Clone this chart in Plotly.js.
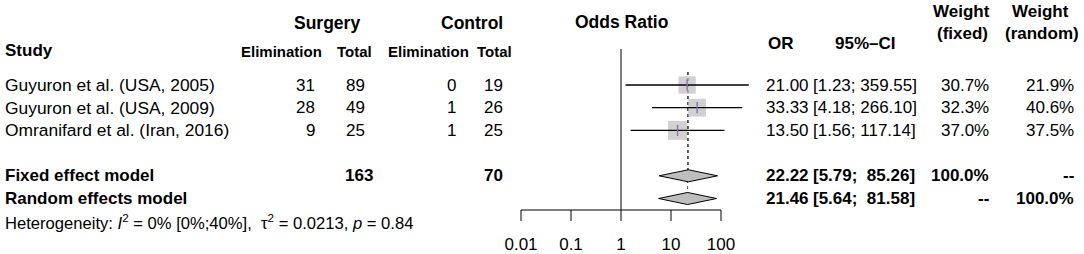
<!DOCTYPE html>
<html><head><meta charset="utf-8">
<script src="https://cdn.plot.ly/plotly-3.0.1.min.js"></script>
<style>html,body{margin:0;padding:0;background:#fff;} #chart{width:1084px;height:254px;}</style>
</head><body><div id="chart"></div>
<script>
// ---------------- data ----------------
const studies = ['Guyuron et al. (USA, 2005)', 'Guyuron et al. (USA, 2009)', 'Omranifard et al. (Iran, 2016)'];
const surgEvents = [31, 28, 9];
const surgTotal = [89, 49, 25];
const ctrlEvents = [0, 1, 1];
const ctrlTotal = [19, 26, 25];
const oddsRatio = [21.00, 33.33, 13.50];
const ciLow = [1.23, 4.18, 1.56];
const ciHigh = [359.55, 266.10, 117.14];
const weightFixed = [30.7, 32.3, 37.0];
const weightRandom = [21.9, 40.6, 37.5];
const modelLabels = ['Fixed effect model', 'Random effects model'];
const modelOR = [22.22, 21.46];
const modelLow = [5.79, 5.64];
const modelHigh = [85.26, 81.58];
const modelWFixed = ['100.0%', '--'];
const modelWRandom = ['--', '100.0%'];
const totalSurg = 163;
const totalCtrl = 70;
const tickVals = [0.01, 0.1, 1, 10, 100];
const tickLabels = ['0.01', '0.1', '1', '10', '100'];
const hetText = 'Heterogeneity: <i>I</i><sup>2</sup> = 0% [0%;40%],\u00a0 \u03c4<sup>2</sup> = 0.0213, <i>p</i> = 0.84';

// ---------------- geometry ----------------
const W = 1084, H = 254;
const FONT = 'Liberation Sans, Arial, Helvetica, sans-serif';
const px1 = 621, pxPerDecade = 50;           // where OR = 1 sits, px per decade
const row0px = 85, rowPx = 22.7;              // first study row, row spacing
const xRange = [(0 - px1) / pxPerDecade, (W - px1) / pxPerDecade];
const yRange = [(H - row0px) / rowPx, (0 - row0px) / rowPx];
const rowOf = py => (py - row0px) / rowPx;
const studyRows = studies.map((_, i) => i);
const modelRows = [4, 5];
const axisRow = rowOf(210), tickEndRow = rowOf(221), tickLabelRow = rowOf(246);
const GRAY = '#bebebe';

const traces = [];
// dotted summary lines
modelOR.forEach((v, k) => {
  traces.push({x: [v, v], y: [rowOf(72), modelRows[k]], mode: 'lines', type: 'scatter',
    line: {color: '#222', width: 0.8, dash: 'dot'}, hoverinfo: 'skip'});
});
// squares
traces.push({x: oddsRatio, y: studyRows, mode: 'markers', type: 'scatter',
  marker: {symbol: 'square', color: GRAY, size: weightFixed.map(w => 19 * Math.sqrt(w / 37)), line: {width: 0}}});
// CI lines
const cx = [], cy = [];
studyRows.forEach((r, i) => { cx.push(ciLow[i], ciHigh[i], null); cy.push(r, r, null); });
traces.push({x: cx, y: cy, mode: 'lines', type: 'scatter', line: {color: '#000', width: 1.3}});
// inner estimate ticks
traces.push({x: oddsRatio, y: studyRows, mode: 'markers', type: 'scatter',
  marker: {symbol: 'line-ns-open', size: 8, line: {color: '#000', width: 1.4}}});
// diamonds
const dh = 0.265;
modelOR.forEach((v, k) => {
  const r = modelRows[k];
  traces.push({x: [modelLow[k], v, modelHigh[k], v, modelLow[k]], y: [r, r - dh, r, r + dh, r],
    mode: 'lines', type: 'scatter', fill: 'toself', fillcolor: GRAY, line: {color: '#000', width: 1}});
});
// null line
traces.push({x: [1, 1], y: [rowOf(49), axisRow], mode: 'lines', type: 'scatter', line: {color: '#000', width: 1}});
// axis line and ticks
const ax = [tickVals[0], tickVals[tickVals.length - 1], null], ay = [axisRow, axisRow, null];
tickVals.forEach(t => { ax.push(t, t, null); ay.push(axisRow, tickEndRow, null); });
traces.push({x: ax, y: ay, mode: 'lines', type: 'scatter', line: {color: '#000', width: 1}});
traces.push({x: tickVals, y: tickVals.map(() => tickLabelRow), mode: 'text', type: 'scatter', text: tickLabels,
  textposition: 'middle center', textfont: {family: FONT, size: 17, color: '#000'}});

// ---------------- text columns ----------------
const ann = [];
function T(px, row, text, anchor, size, bold) {
  ann.push({xref: 'paper', yref: 'y', x: px / W, y: row, text: bold ? '<b>' + text + '</b>' : text,
    xanchor: anchor, yanchor: 'middle', showarrow: false, borderpad: 0,
    font: {family: FONT, size: size, color: '#000'}});
}
// headers
T(326.7, rowOf(22.5), 'Surgery', 'center', 17.5, true);
T(472, rowOf(22.5), 'Control', 'center', 17.5, true);
T(621, rowOf(22), 'Odds Ratio', 'center', 17.5, true);
T(4, rowOf(50), 'Study', 'left', 17, true);
T(282, rowOf(51.5), 'Elimination', 'center', 15, true);
T(354, rowOf(51.5), 'Total', 'center', 15, true);
T(428, rowOf(51.5), 'Elimination', 'center', 15, true);
T(494, rowOf(51.5), 'Total', 'center', 15, true);
T(781, rowOf(43), 'OR', 'center', 17, true);
T(865, rowOf(43), '95%\u2013CI', 'center', 17, true);
T(961, rowOf(11), 'Weight', 'center', 17, true);
T(962, rowOf(33), '(fixed)', 'center', 17, true);
T(1040, rowOf(11), 'Weight', 'center', 17, true);
T(1042, rowOf(33), '(random)', 'center', 17, true);
// study rows
studyRows.forEach((r, i) => {
  T(4, r, studies[i], 'left', 17.4, false);
  T(316, r, String(surgEvents[i]), 'right', 17, false);
  T(345, r, String(surgTotal[i]), 'left', 17, false);
  T(457.5, r, String(ctrlEvents[i]), 'right', 17, false);
  T(483, r, String(ctrlTotal[i]), 'left', 17, false);
  T(810, r, oddsRatio[i].toFixed(2), 'right', 17, false);
  T(812, r, '[' + ciLow[i].toFixed(2) + '; ' + ciHigh[i].toFixed(2) + ']', 'left', 17, false);
  T(990, r, weightFixed[i].toFixed(1) + '%', 'right', 17, false);
  T(1075, r, weightRandom[i].toFixed(1) + '%', 'right', 17, false);
});
// model rows
modelRows.forEach((r, k) => {
  T(4, r, modelLabels[k], 'left', 17, true);
  T(810, r, modelOR[k].toFixed(2), 'right', 17, true);
  const hi = modelHigh[k].toFixed(2);
  const pad = hi.length < 6 ? '\u00a0\u00a0' : ' ';
  T(812, r, '[' + modelLow[k].toFixed(2) + ';' + pad + hi + ']', 'left', 17, true);
  T(990, r, modelWFixed[k], 'right', 17, true);
  T(1075, r, modelWRandom[k], 'right', 17, true);
});
T(344, modelRows[0], String(totalSurg), 'left', 17, true);
T(483, modelRows[0], String(totalCtrl), 'left', 17, true);
T(4, rowOf(222), hetText, 'left', 16.6, false);

const layout = {
  width: W, height: H, margin: {l: 0, r: 0, t: 0, b: 0}, showlegend: false,
  paper_bgcolor: '#fff', plot_bgcolor: '#fff',
  xaxis: {type: 'log', range: xRange, visible: false, fixedrange: true},
  yaxis: {range: yRange, visible: false, fixedrange: true},
  annotations: ann,
  font: {family: FONT}
};
Plotly.newPlot('chart', traces, layout, {staticPlot: true, displayModeBar: false});
</script></body></html>
